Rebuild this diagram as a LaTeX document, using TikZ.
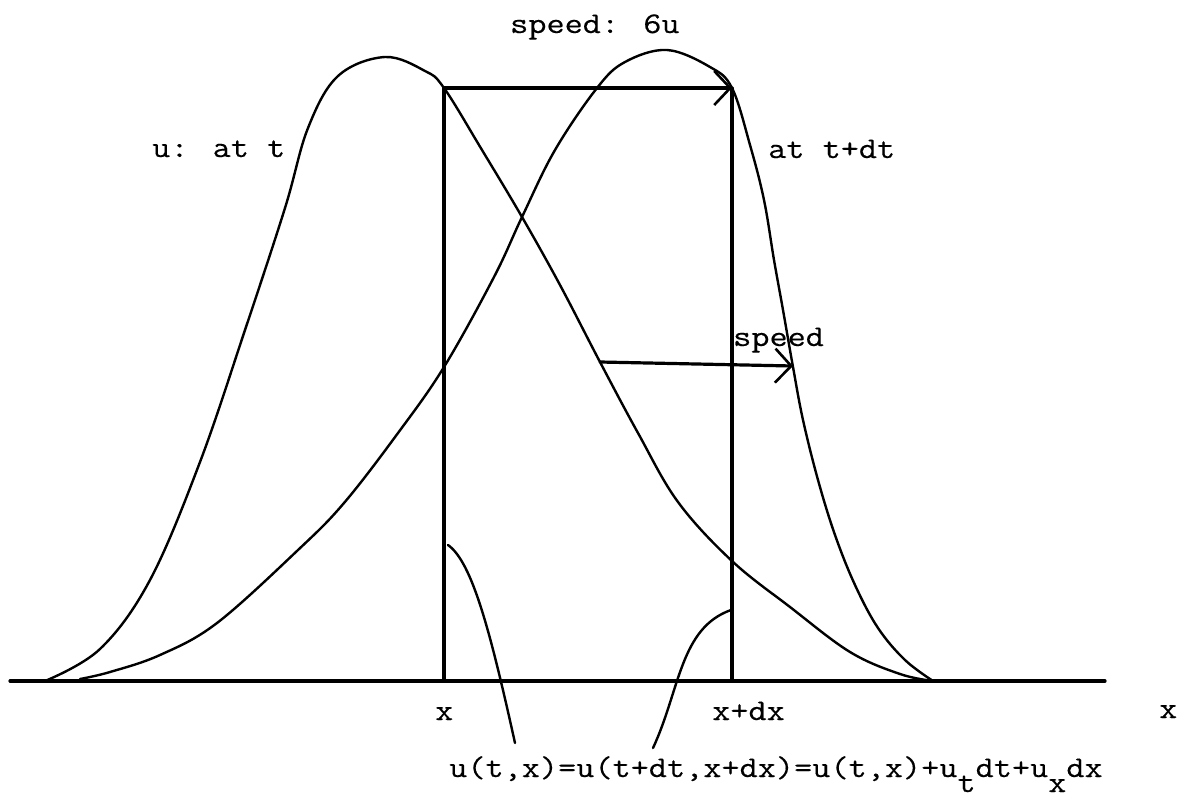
\documentclass[tikz,border=0pt]{standalone}
\usepackage{fontspec}
\newfontfamily\tw{Latin Modern Mono}[FakeStretch=1.175,FakeBold=0.3]
\usetikzlibrary{arrows.meta}
\begin{document}
\begin{tikzpicture}[x=1pt,y=-1pt,
  lbl/.style={anchor=base west,inner sep=0pt,font=\tw\fontsize{30pt}{36pt}\selectfont},
  curve/.style={line width=2.4pt,line join=round,line cap=round},
  heavy/.style={line width=3.2pt,line cap=round},
  conn/.style={line width=2.4pt,line cap=round},
  barb/.style={-{Straight Barb[length=16pt,width=34pt,line width=2.6pt]}},
]
\useasboundingbox (0,0) rectangle (1177,798);
% key points
\coordinate (axL) at (10,681);
\coordinate (axR) at (1105,681);
\coordinate (xL) at (444,681);
\coordinate (xLtop) at (444,88);
\coordinate (xR) at (732,681);
\coordinate (xRtop) at (732,88);
\coordinate (spS) at (600,362);
\coordinate (spE) at (793,366);
\coordinate (cLtop) at (448,545);
\coordinate (cLbot) at (515,743);
\coordinate (cRtop) at (731,610);
\coordinate (cRbot) at (653,748);
% labels
\node[lbl] (title) at (510,33) {speed: 6u};
\node[lbl] (ut) at (152,157) {u: at t};
\node[lbl] (utdt) at (768,158) {at t+dt};
\node[lbl] (spd) at (733,346) {speed};
\node[lbl] (lx) at (435,720) {x};
\node[lbl] (lxdx) at (712,720) {x+dx};
\node[lbl] (laxis) at (1159,718) {x};
\node[lbl] (formula) at (449,777) {u(t,x)=u(t+dt,x+dx)=u(t,x)+u\raisebox{-15pt}{t}dt+u\raisebox{-15pt}{x}dx};
% axis
\draw[heavy] (axL) -- (axR);
% curve at t
\draw[curve] plot[smooth,tension=0.6] coordinates {
 (45,681) (100,649) (150,580) (200,462) (245,330) (285,208) (308,128)
 (338,76) (385,57) (425,71) (444,88) (482,150) (522,217) (560,285)
 (600,362) (638,433) (678,502) (732,561) (790,607) (850,652) (900,674) (933,681)};
% curve at t+dt
\draw[curve] plot[smooth,tension=0.6] coordinates {
 (80,679) (110,672) (160,655) (217,623) (298,550) (344,503) (398,433)
 (444,367) (494,277) (522,217) (555,150) (597,88) (625,62) (667,50)
 (710,67) (732,88) (750,145) (764,200) (774,260) (783,310) (793,367)
 (803,420) (818,480) (835,535) (855,585) (878,628) (905,660) (933,681)};
% verticals
\draw[heavy] (xL) -- (xLtop);
\draw[heavy] (xR) -- (xRtop);
% arrows
\draw[heavy,barb] (xLtop) -- (xRtop);
\draw[heavy,barb] (spS) -- (spE);
% connectors
\draw[conn] (cLtop) .. controls (472,562) and (490,630) .. (cLbot);
\draw[conn] (cRtop) .. controls (680,628) and (680,690) .. (cRbot);
\end{tikzpicture}
\end{document}
